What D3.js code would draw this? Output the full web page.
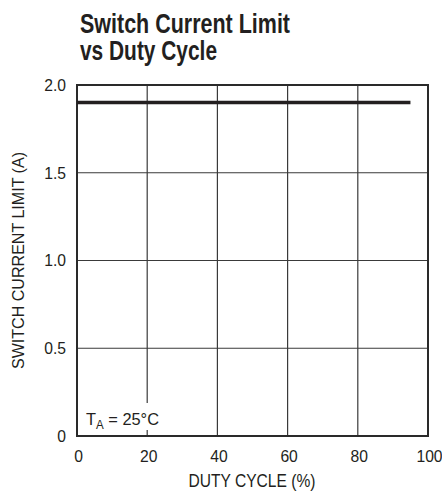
<!DOCTYPE html>
<html><head><meta charset="utf-8">
<script src="https://cdn.jsdelivr.net/npm/d3@7"></script>
<style>
html,body{margin:0;padding:0;background:#fff;}
svg{display:block;}
</style></head>
<body>
<svg id="c" width="442" height="493"></svg>
<script>
const dutyCycle = [0, 95];
const currentLimit = [1.9, 1.9];
const xTicks = [0, 20, 40, 60, 80, 100];
const xTickLabels = ["0", "20", "40", "60", "80", "100"];
const yTicks = [0, 0.5, 1.0, 1.5, 2.0];
const yTickLabels = ["0", "0.5", "1.0", "1.5", "2.0"];
const titleLines = ["Switch Current Limit", "vs Duty Cycle"];
const xLabel = "DUTY CYCLE (%)";
const yLabel = "SWITCH CURRENT LIMIT (A)";

const FONT = "'Liberation Sans',Arial,Helvetica,sans-serif";
const INK = "#231f20";
const svg = d3.select("#c");
const m = {left: 77, right: 428, top: 85, bottom: 436};
const x = d3.scaleLinear().domain([0, 100]).range([m.left, m.right]);
const y = d3.scaleLinear().domain([0, 2]).range([m.bottom, m.top]);

function condense(sel, k) {
  sel.each(function () {
    const w = this.getComputedTextLength();
    d3.select(this).attr("textLength", w * k).attr("lengthAdjust", "spacingAndGlyphs");
  });
}
function fit(sel, w) {
  sel.attr("textLength", w).attr("lengthAdjust", "spacingAndGlyphs");
}

// title
const titleWidths = [210, 137];
svg.append("g").selectAll("text").data(titleLines).join("text")
  .attr("x", 80).attr("y", (d, i) => 33 + i * 27)
  .attr("font-family", FONT).attr("font-weight", "bold").attr("font-size", 28)
  .attr("fill", INK).text(d => d)
  .each(function (d, i) { fit(d3.select(this), titleWidths[i]); });

// grid
const g = svg.append("g");
g.selectAll("line.vx").data(xTicks.slice(1, -1)).join("line")
  .attr("x1", d => x(d)).attr("x2", d => x(d)).attr("y1", m.top).attr("y2", m.bottom)
  .attr("stroke", "#3a3a3a").attr("stroke-width", 1.2);
g.selectAll("line.hy").data(yTicks.slice(1, -1)).join("line")
  .attr("x1", m.left).attr("x2", m.right).attr("y1", d => y(d)).attr("y2", d => y(d))
  .attr("stroke", "#3a3a3a").attr("stroke-width", 1.2);

// TA label with white background
const ta = svg.append("g");
ta.append("rect").attr("x", 84).attr("y", 403).attr("width", 78).attr("height", 27).attr("fill", "#fff");
const tat = ta.append("text").attr("x", 86).attr("y", 425)
  .attr("font-family", FONT).attr("font-size", 17).attr("fill", INK);
tat.append("tspan").text("T");
tat.append("tspan").attr("font-size", 12).attr("dy", 4).text("A");
tat.append("tspan").attr("dy", -4).text(" = 25°C");
fit(tat, 73);

// frame
svg.append("rect").attr("x", m.left).attr("y", m.top)
  .attr("width", m.right - m.left).attr("height", m.bottom - m.top)
  .attr("fill", "none").attr("stroke", "#2a2a2a").attr("stroke-width", 2);

// data line
const line = d3.line().x(d => x(d[0])).y(d => y(d[1]));
svg.append("path").datum(dutyCycle.map((d, i) => [d, currentLimit[i]]))
  .attr("d", line).attr("fill", "none").attr("stroke", INK).attr("stroke-width", 3.4);

// axes tick labels
svg.append("g").selectAll("text").data(yTicks).join("text")
  .attr("x", 66).attr("y", d => y(d)).attr("dy", "0.35em")
  .attr("text-anchor", "end").attr("font-family", FONT).attr("font-size", 16.5).attr("fill", INK)
  .text((d, i) => yTickLabels[i]).call(condense, 0.95);
svg.append("g").selectAll("text").data(xTicks).join("text")
  .attr("x", d => x(d) + 1.5).attr("y", 462)
  .attr("text-anchor", "middle").attr("font-family", FONT).attr("font-size", 16.5).attr("fill", INK)
  .text((d, i) => xTickLabels[i]).call(condense, 0.95);

// axis labels
svg.append("text").attr("x", 252).attr("y", 487).attr("text-anchor", "middle")
  .attr("font-family", FONT).attr("font-size", 18).attr("fill", INK).text(xLabel).call(fit, 127);
svg.append("text").attr("transform", `translate(24,${(m.top + m.bottom) / 2}) rotate(-90)`)
  .attr("text-anchor", "middle")
  .attr("font-family", FONT).attr("font-size", 16).attr("fill", INK).text(yLabel).call(fit, 217);
</script>
</body></html>
